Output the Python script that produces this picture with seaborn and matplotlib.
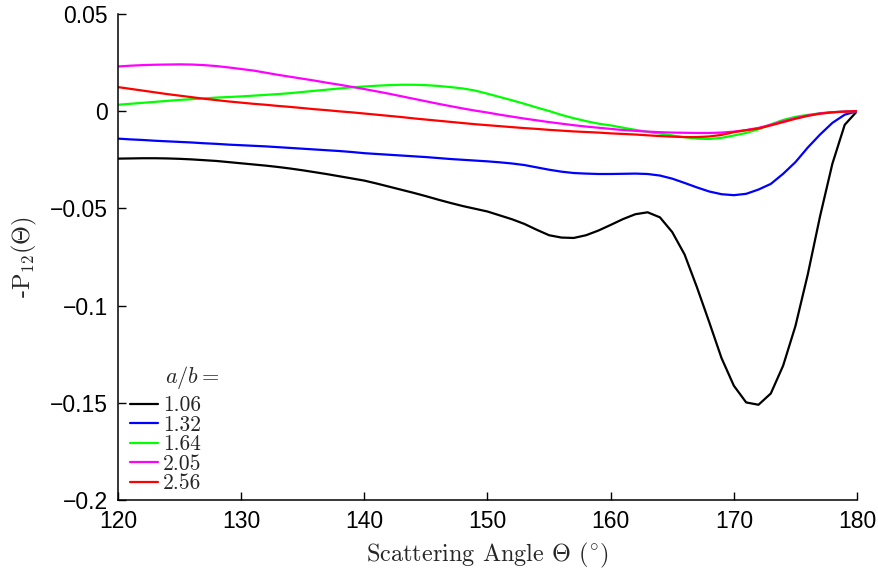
import numpy as np
import pandas as pd
import matplotlib
matplotlib.use("Agg")
import matplotlib.pyplot as plt
import seaborn as sns
from matplotlib.ticker import FuncFormatter

# ---------------- data ----------------
angles = list(range(120, 181))

ratio_labels = ["1.06", "1.32", "1.64", "2.05", "2.56"]
colors = ["#000000", "#0000ff", "#00ff00", "#ff00ff", "#ff0000"]

p_106 = [-0.0244, -0.0243, -0.0242, -0.0242, -0.0243, -0.0245, -0.0248, -0.0252, -0.0256, -0.0262,
         -0.0268, -0.0274, -0.0280, -0.0287, -0.0295, -0.0304, -0.0314, -0.0324, -0.0335, -0.0346,
         -0.0357, -0.0372, -0.0388, -0.0404, -0.0420, -0.0437, -0.0455, -0.0472, -0.0488, -0.0502,
         -0.0516, -0.0536, -0.0556, -0.0580, -0.0610, -0.0638, -0.0650, -0.0652, -0.0638, -0.0614,
         -0.0585, -0.0555, -0.0530, -0.0520, -0.0546, -0.0622, -0.0737, -0.0905, -0.1085, -0.1270,
         -0.1412, -0.1498, -0.1510, -0.1452, -0.1309, -0.1105, -0.0840, -0.0540, -0.0270, -0.0070,
         0.0]

p_132 = [-0.0141, -0.0145, -0.0148, -0.0152, -0.0155, -0.0158, -0.0161, -0.0165, -0.0168, -0.0172,
         -0.0175, -0.0178, -0.0181, -0.0185, -0.0189, -0.0193, -0.0197, -0.0201, -0.0205, -0.0210,
         -0.0216, -0.0220, -0.0224, -0.0228, -0.0232, -0.0236, -0.0241, -0.0246, -0.0250, -0.0254,
         -0.0258, -0.0263, -0.0269, -0.0277, -0.0289, -0.0301, -0.0311, -0.0318, -0.0321, -0.0323,
         -0.0323, -0.0322, -0.0321, -0.0323, -0.0331, -0.0347, -0.0369, -0.0392, -0.0413, -0.0427,
         -0.0432, -0.0425, -0.0403, -0.0374, -0.0322, -0.0262, -0.0187, -0.0120, -0.0060, -0.0018,
         0.0]

p_164 = [0.0033, 0.0038, 0.0043, 0.0048, 0.0053, 0.0058, 0.0062, 0.0066, 0.0070, 0.0073,
         0.0076, 0.0080, 0.0084, 0.0088, 0.0093, 0.0099, 0.0105, 0.0111, 0.0117, 0.0123,
         0.0127, 0.0131, 0.0134, 0.0136, 0.0136, 0.0134, 0.0130, 0.0124, 0.0117, 0.0106,
         0.0090, 0.0073, 0.0056, 0.0038, 0.0019, 0.0001, -0.0019, -0.0036, -0.0051, -0.0064,
         -0.0073, -0.0085, -0.0096, -0.0106, -0.0115, -0.0125, -0.0134, -0.0141, -0.0143, -0.0137,
         -0.0125, -0.0112, -0.0093, -0.0068, -0.0045, -0.0029, -0.0019, -0.0011, -0.0005, -0.0002,
         0.0]

p_205 = [0.0230, 0.0234, 0.0237, 0.0239, 0.0240, 0.0241, 0.0240, 0.0237, 0.0232, 0.0225,
         0.0217, 0.0209, 0.0198, 0.0187, 0.0177, 0.0167, 0.0157, 0.0146, 0.0136, 0.0125,
         0.0114, 0.0102, 0.0090, 0.0077, 0.0064, 0.0051, 0.0038, 0.0026, 0.0014, 0.0003,
         -0.0007, -0.0018, -0.0028, -0.0038, -0.0047, -0.0056, -0.0064, -0.0072, -0.0079, -0.0085,
         -0.0091, -0.0097, -0.0101, -0.0105, -0.0108, -0.0110, -0.0111, -0.0112, -0.0112, -0.0110,
         -0.0105, -0.0097, -0.0086, -0.0070, -0.0052, -0.0036, -0.0022, -0.0011, -0.0005, -0.0002,
         0.0]

p_256 = [0.0124, 0.0115, 0.0106, 0.0097, 0.0088, 0.0080, 0.0072, 0.0064, 0.0057, 0.0050,
         0.0044, 0.0038, 0.0033, 0.0027, 0.0022, 0.0016, 0.0010, 0.0005, -0.0001, -0.0006,
         -0.0012, -0.0018, -0.0024, -0.0030, -0.0037, -0.0043, -0.0049, -0.0055, -0.0061, -0.0067,
         -0.0072, -0.0077, -0.0082, -0.0087, -0.0091, -0.0096, -0.0100, -0.0104, -0.0107, -0.0110,
         -0.0114, -0.0117, -0.0120, -0.0124, -0.0128, -0.0131, -0.0133, -0.0133, -0.0130, -0.0122,
         -0.0108, -0.0098, -0.0089, -0.0073, -0.0056, -0.0039, -0.0024, -0.0013, -0.0006, -0.0002,
         0.0]

series = [p_106, p_132, p_164, p_205, p_256]

x_ticks = [120, 130, 140, 150, 160, 170, 180]
y_ticks = [-0.2, -0.15, -0.1, -0.05, 0, 0.05]

# ---------------- frame ----------------
rows = []
for lab, vals in zip(ratio_labels, series):
    for a, v in zip(angles, vals):
        rows.append({"angle": a, "value": v, "ratio": lab})
df = pd.DataFrame(rows)

sns.set_style("ticks")
plt.rcParams["font.family"] = ["Liberation Sans", "DejaVu Sans"]
plt.rcParams["mathtext.fontset"] = "cm"
plt.rcParams["axes.unicode_minus"] = True

fig = plt.figure(figsize=(8.79, 5.71), dpi=100)
ax = fig.add_axes([0.1342, 0.1243, 0.9750 - 0.1342, 0.9755 - 0.1243])

sns.lineplot(data=df, x="angle", y="value", hue="ratio", hue_order=ratio_labels,
             palette=dict(zip(ratio_labels, colors)), linewidth=1.6, ax=ax,
             legend=True, sort=False, estimator=None)

ax.set_xlim(120, 180)
ax.set_ylim(-0.2, 0.05)
ax.set_xticks(x_ticks)
ax.set_yticks(y_ticks)

def fmt(v, pos):
    s = "%g" % round(v, 4)
    if s == "-0":
        s = "0"
    return s.replace("-", "\u2212")

ax.yaxis.set_major_formatter(FuncFormatter(fmt))
ax.xaxis.set_major_formatter(FuncFormatter(fmt))
ax.tick_params(direction="in", length=6, width=1.0, labelsize=16.5, pad=7, colors="black")

for side in ["top", "right"]:
    ax.spines[side].set_visible(False)
for side in ["left", "bottom"]:
    ax.spines[side].set_linewidth(1.1)
    ax.spines[side].set_color("black")

ax.set_xlabel(r"Scattering Angle $\Theta$ $(^{\circ})$", family="cmr10", fontsize=17.5, labelpad=6)
ax.set_ylabel(r"-P$_{12}$($\Theta$)", family="cmr10", fontsize=17.5, labelpad=8)

leg = ax.legend(loc="lower left", bbox_to_anchor=(0.016, 0.014), frameon=False,
                prop={"family": "cmr10", "size": 15.5}, handlelength=1.3,
                handletextpad=0.25, labelspacing=0.0, borderpad=0.0, borderaxespad=0.0)
ax.text(0.064, 0.252, r"$a/b =$", transform=ax.transAxes, fontsize=16, ha="left", va="center")

fig.savefig("out.png", dpi=100)
